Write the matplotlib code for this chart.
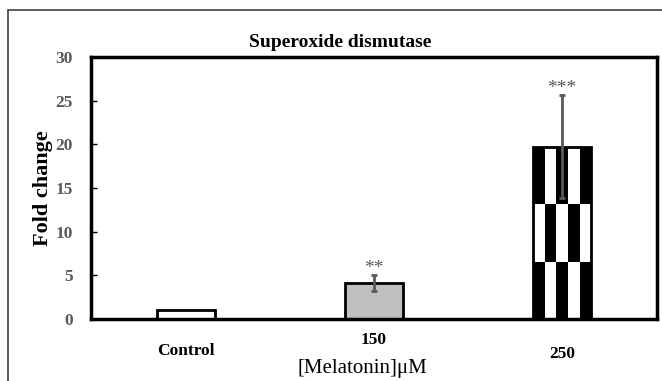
import numpy as np
import matplotlib.pyplot as plt
from matplotlib.patches import Rectangle
import matplotlib.transforms as mtransforms

plt.rcParams['font.family'] = 'Liberation Serif'

categories = ['Control', '150', '250']
fold_change = [1.0, 4.1, 19.7]
errors = [0.0, 0.9, 5.9]
stars = ['', '**', '***']
label_y = [-0.122, -0.080, -0.134]   # staggered tick labels as in the original

x = np.arange(len(categories))
width = 0.31

fig = plt.figure(figsize=(6.62, 3.81), dpi=100)
ax = fig.add_axes([0.1375, 0.1627, 0.855, 0.6877])

# outer frame
fig.patches.append(Rectangle((0.012, -0.1), 1.1, 1.074, transform=fig.transFigure,
                             fill=False, edgecolor='#404040', linewidth=1.2))

ax.bar(x[0], fold_change[0], width, color='white', edgecolor='black', linewidth=2, zorder=2)
ax.bar(x[1], fold_change[1], width, color='#c0c0c0', edgecolor='black', linewidth=2, zorder=2)

# checkerboard bar: 3 rows x 5 columns
rows, cols = 3, 5
h = fold_change[2] / rows
w = width / cols
for i in range(rows):
    for j in range(cols):
        c = 'black' if (i + j) % 2 == 0 else 'white'
        ax.bar(x[2] - width / 2 + j * w, h, w, bottom=i * h, align='edge',
               color=c, linewidth=0, zorder=2)
ax.bar(x[2], fold_change[2], width, fill=False, edgecolor='black', linewidth=2, zorder=3)

ax.errorbar(x[1:], fold_change[1:], yerr=errors[1:], fmt='none', ecolor='#595959',
            elinewidth=2, capsize=2.5, capthick=2, zorder=4)

for xi, v, e, s in zip(x, fold_change, errors, stars):
    if s:
        ax.text(xi, v + e + 0.8, s, ha='center', va='center', fontsize=14, color='#595959')

ax.set_xlim(-0.505, 2.505)
ax.set_ylim(0, 30)
ax.set_yticks(np.arange(0, 31, 5))
ax.tick_params(axis='y', direction='in', length=4, width=1, labelsize=12.5,
               labelcolor='#595959', pad=13)
for lbl in ax.get_yticklabels():
    lbl.set_fontweight('bold')
ax.set_xticks([])

trans = mtransforms.blended_transform_factory(ax.transData, ax.transAxes)
for xi, name, yy in zip(x, categories, label_y):
    ax.text(xi, yy, name, transform=trans, ha='center', va='center',
            fontsize=12.5, fontweight='bold')
ax.text(0.94, -0.19, '[Melatonin]μM', transform=trans, ha='center', va='center', fontsize=15)

for sp in ax.spines.values():
    sp.set_linewidth(2.5)

ax.set_ylabel('Fold change', fontsize=16, fontweight='bold', labelpad=2)
ax.set_title('Superoxide dismutase', fontsize=14, fontweight='bold', x=0.44, pad=7)

fig.savefig('out.png', dpi=100)
